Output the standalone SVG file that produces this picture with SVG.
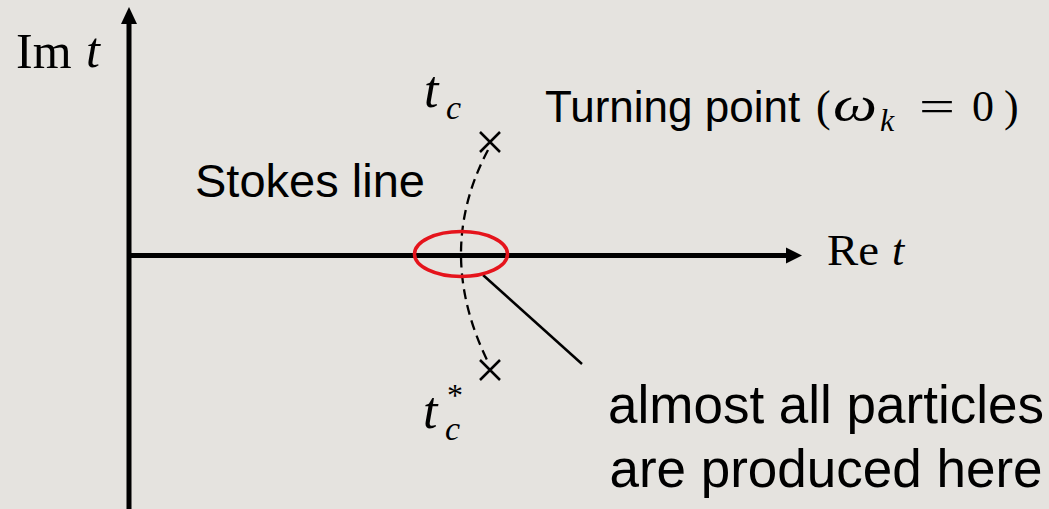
<svg xmlns="http://www.w3.org/2000/svg" width="1049" height="509" viewBox="0 0 1049 509">
<style>
.sans{font-family:"Liberation Sans",Arial,sans-serif;fill:#000}
.serif{font-family:"Liberation Serif","Times New Roman",serif;fill:#000}
.it{font-style:italic}
.ax{stroke:#000;stroke-width:5;fill:none}
.thin{stroke:#000;stroke-width:2.5;fill:none}
</style>
<rect x="0" y="0" width="1049" height="509" fill="#e5e3df"/>
<g id="axes">
  <line class="ax" x1="129" y1="20" x2="129" y2="509"/>
  <polygon points="129,7 121,24 137,24" fill="#000"/>
  <line class="ax" x1="127" y1="255.5" x2="790" y2="255.5"/>
  <polygon points="802,255.5 786,247.5 786,263.5" fill="#000"/>
</g>
<g id="connectors">
  <path d="M 488 150 Q 434 252 488 362" stroke="#000" stroke-width="2.3" fill="none" stroke-dasharray="10 6"/>
  <line class="thin" x1="483" y1="275" x2="582" y2="364"/>
</g>
<g id="turning-point-top">
  <path class="thin" d="M 480 132 L 500 152 M 500 132 L 480 152"/>
</g>
<g id="turning-point-bottom">
  <path class="thin" d="M 480 360 L 500 380 M 500 360 L 480 380"/>
</g>
<g id="production-region">
  <ellipse cx="461" cy="254" rx="46.5" ry="22.5" fill="none" stroke="#e5141c" stroke-width="3.5"/>
</g>
<g id="label-im">
  <text class="serif" x="16" y="68" font-size="50">Im</text>
  <text class="serif it" x="86" y="67" font-size="50">t</text>
</g>
<g id="label-re">
  <text class="serif" x="827" y="265" font-size="44" textLength="52" lengthAdjust="spacingAndGlyphs">Re</text>
  <text class="serif it" x="892" y="265" font-size="44">t</text>
</g>
<g id="label-tc">
  <text class="serif it" x="424" y="107" font-size="52">t</text>
  <text class="serif it" x="446" y="119" font-size="34">c</text>
</g>
<g id="label-tc-star">
  <text class="serif it" x="423" y="428" font-size="52">t</text>
  <text class="serif it" x="445" y="440" font-size="34">c</text>
  <text class="serif" x="447" y="406" font-size="32">*</text>
</g>
<g id="label-turning">
  <text class="sans" x="545" y="122" font-size="44">Turning point</text>
  <text class="serif" x="816" y="121" font-size="44">(</text>
  <text class="serif it" x="833" y="121" font-size="48" textLength="44" lengthAdjust="spacingAndGlyphs">ω</text>
  <text class="serif it" x="880" y="131" font-size="32">k</text>
  <text class="serif" x="919" y="121" font-size="44" textLength="36" lengthAdjust="spacingAndGlyphs">=</text>
  <text class="serif" x="972" y="121" font-size="44">0</text>
  <text class="serif" x="1004" y="121" font-size="44">)</text>
</g>
<g id="label-stokes">
  <text class="sans" x="195" y="197" font-size="47">Stokes line</text>
</g>
<g id="label-production">
  <text class="sans" x="826" y="423" font-size="53" text-anchor="middle">almost all particles</text>
  <text class="sans" x="826" y="487" font-size="53" text-anchor="middle">are produced here</text>
</g>
</svg>
